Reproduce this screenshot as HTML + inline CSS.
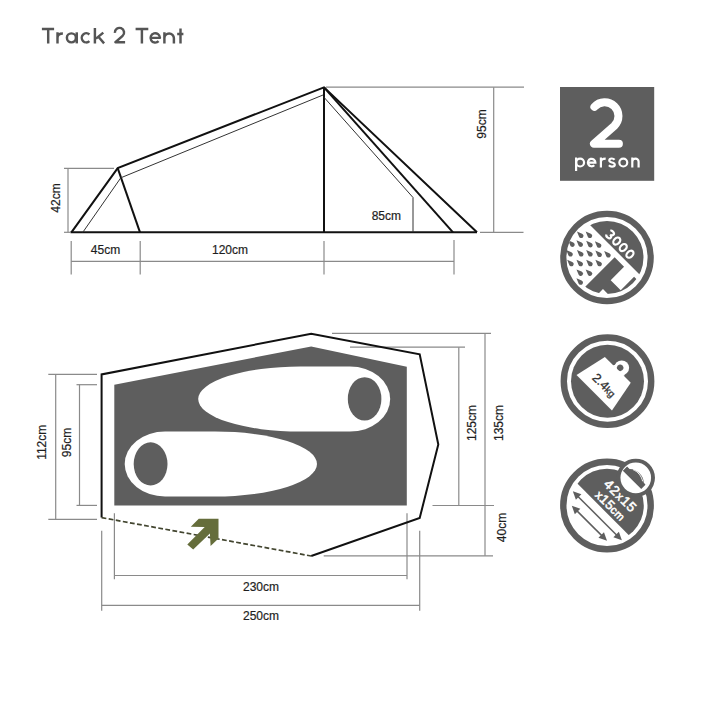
<!DOCTYPE html>
<html><head><meta charset="utf-8">
<style>
html,body{margin:0;padding:0;background:#fff;width:720px;height:720px;overflow:hidden}
svg{display:block}
text{font-family:"Liberation Sans",sans-serif}
</style></head>
<body>
<svg width="720" height="720" viewBox="0 0 720 720">
<rect width="720" height="720" fill="#fff"/>
<!-- Title -->
<g fill="none" stroke="#555" stroke-width="2.45" stroke-linecap="butt" stroke-linejoin="round">
  <path d="M41.9,29.05 H54.1 M48.2,29.05 V43.4"/>
  <path d="M57.5,32.3 V43.4 M57.5,38 C57.5,34.6 59.6,33.45 62.9,33.45"/>
  <circle cx="71.4" cy="37.85" r="4.5"/><path d="M76.75,32.3 V43.4"/>
  <path d="M89.4,34.5 A4.55,4.55 0 1 0 89.4,41.2"/>
  <path d="M94.9,27.9 V43.4 M103.3,32.6 L96,38.6 M98.4,36.8 L104.1,43.4"/>
  <path d="M114.9,32.9 A4.6,4.6 0 1 1 122.6,35.9 L115.4,42.25 H125.1"/>
  <path d="M135.6,29.05 H148.3 M141.9,29.05 V43.4"/>
  <path d="M150.55,37.85 H159.95 A4.7,4.7 0 1 0 158.6,41.2"/>
  <path d="M164.4,32.3 V43.4 M164.4,38.2 A4.75,4.75 0 0 1 173.9,38.2 V43.4"/>
  <path d="M180.5,28.4 V43.4 M177.2,33.9 H183.4"/>
</g>

<!-- ===== SIDE VIEW ===== -->
<g fill="none" stroke="#8a8a8a" stroke-width="1.2">
  <!-- 42cm -->
  <line x1="64" y1="168.3" x2="114" y2="168.3"/>
  <line x1="68" y1="168.3" x2="68" y2="232.3"/>
  <line x1="64" y1="232.3" x2="70" y2="232.3"/>
  <!-- 95cm -->
  <line x1="326" y1="87.2" x2="524" y2="87.2"/>
  <line x1="493.7" y1="87.2" x2="493.7" y2="232.4"/>
  <line x1="480" y1="232.4" x2="523.5" y2="232.4"/>
  <!-- bottom dims -->
  <line x1="71.2" y1="241" x2="71.2" y2="274.5"/>
  <line x1="140.2" y1="241" x2="140.2" y2="274.5"/>
  <line x1="324" y1="241" x2="324" y2="274.5"/>
  <line x1="454" y1="240" x2="454" y2="274.5"/>
  <line x1="71.2" y1="261.3" x2="454" y2="261.3"/>
</g>
<g fill="none" stroke="#111" stroke-width="2" stroke-linejoin="miter" stroke-linecap="butt">
  <line x1="70.5" y1="232.3" x2="477" y2="232.3"/>
  <polyline points="71.4,232.3 117.7,168.1 324,87.3 477,232.3"/>
  <line x1="117.7" y1="168.1" x2="140" y2="232.3"/>
  <line x1="324" y1="87.3" x2="453" y2="232.3"/>
  <line x1="324" y1="87.3" x2="324" y2="232.3"/>
</g>
<g fill="none" stroke="#333" stroke-width="1">
  <polyline points="82.8,232.3 120.8,177.8 323,95"/>
  <polyline points="324.2,97.5 413,197.5 413,232.3"/>
</g>
<g font-size="12" fill="#1e1e1e" stroke="#1e1e1e" stroke-width="0.2">
  <text x="90.8" y="253.8">45cm</text>
  <text x="212" y="253.8">120cm</text>
  <text x="371.7" y="220.4">85cm</text>
  <text transform="translate(60,198) rotate(-90)" text-anchor="middle">42cm</text>
  <text transform="translate(485.5,124) rotate(-90)" text-anchor="middle">95cm</text>
</g>

<!-- ===== FLOOR PLAN ===== -->
<g fill="none" stroke="#8a8a8a" stroke-width="1.2">
  <!-- 112cm -->
  <line x1="48.3" y1="374.4" x2="97" y2="374.4"/>
  <line x1="55.7" y1="374.4" x2="55.7" y2="519.3"/>
  <line x1="48.3" y1="519.3" x2="97" y2="519.3"/>
  <!-- 95cm -->
  <line x1="76.5" y1="384.7" x2="97" y2="384.7"/>
  <line x1="79.5" y1="384.7" x2="79.5" y2="505.4"/>
  <line x1="76.5" y1="505.4" x2="97" y2="505.4"/>
  <!-- 230 -->
  <line x1="114.4" y1="513.3" x2="114.4" y2="579.2"/>
  <line x1="407" y1="513.3" x2="407" y2="579.2"/>
  <line x1="114.4" y1="575.5" x2="407" y2="575.5"/>
  <!-- 250 -->
  <line x1="101.7" y1="530.8" x2="101.7" y2="610.8"/>
  <line x1="419.7" y1="530.8" x2="419.7" y2="610.8"/>
  <line x1="101.7" y1="605.3" x2="419.7" y2="605.3"/>
  <!-- 135 / 125 / 40 -->
  <line x1="332" y1="333.4" x2="491" y2="333.4"/>
  <line x1="485" y1="333.4" x2="485" y2="555.8"/>
  <line x1="350" y1="347.2" x2="465" y2="347.2"/>
  <line x1="458.8" y1="347.2" x2="458.8" y2="505.5"/>
  <line x1="432.5" y1="505.5" x2="494" y2="505.5"/>
  <line x1="323.7" y1="555.8" x2="493" y2="555.8"/>
</g>
<!-- floor -->
<polygon points="114.3,384.7 311.2,346.5 406.8,366.7 406.8,505.4 114.3,505.4" fill="#5e5e5e"/>
<!-- sleeping bags -->
<path d="M165,431.5 L215,431.5 A102,32.5 0 0 1 215,496.5 L165,496.5 A40.3,32.5 0 0 1 165,431.5 Z" fill="#fff"/>
<ellipse cx="150.6" cy="463.9" rx="16.9" ry="21.6" fill="#5e5e5e"/>
<path d="M350,366.6 L300.2,366.6 A102,32.5 0 0 0 300.2,431.6 L350,431.6 A40.2,32.5 0 0 0 350,366.6 Z" fill="#fff"/>
<ellipse cx="364.6" cy="398.9" rx="16.8" ry="21.7" fill="#5e5e5e"/>
<!-- outline -->
<polyline points="101.6,517.6 101.6,374.4 311.2,333.7 419.7,354.3 438.3,444.6 419.7,518 311.2,556" fill="none" stroke="#111" stroke-width="2" stroke-linejoin="miter"/>
<line x1="101.6" y1="517.6" x2="311.2" y2="556" stroke="#42452f" stroke-width="1.7" stroke-dasharray="4.8,2.4"/>
<!-- arrow -->
<polygon points="198.75,518.7 218.5,518.7 218.5,538.5 210.6,546.1 209.9,533.6 193.2,549.6 187.3,544.4 204.7,527 190.8,526.7" fill="#656d3b"/>

<g font-size="12" fill="#1e1e1e" stroke="#1e1e1e" stroke-width="0.2">
  <text transform="translate(46.2,442.3) rotate(-90)" text-anchor="middle">112cm</text>
  <text transform="translate(71.2,442.5) rotate(-90)" text-anchor="middle">95cm</text>
  <text transform="translate(475.8,423) rotate(-90)" text-anchor="middle">125cm</text>
  <text transform="translate(502.5,423) rotate(-90)" text-anchor="middle">135cm</text>
  <text transform="translate(506,527.5) rotate(-90)" text-anchor="middle">40cm</text>
  <text x="243" y="590.6">230cm</text>
  <text x="243" y="619.7">250cm</text>
</g>

<!-- ===== ICONS ===== -->
<defs>
  <path id="drop" d="M0,-5 L2.125,0.12 A2.3,2.3 0 1 1 -2.125,0.12 Z" transform="rotate(-45)"/>
  <clipPath id="c2"><circle r="36.5"/></clipPath>
  <clipPath id="c2b"><circle r="40.7"/></clipPath>
  <clipPath id="c4"><circle r="36.8"/></clipPath>
  <clipPath id="cm"><circle r="13.2"/></clipPath>
</defs>
<!-- 2 person -->
<rect x="560" y="87" width="94.2" height="93.8" fill="#5e5e5e"/>
<path d="M594.4,106.8 A13.8,13.8 0 1 1 614.2,126 L594,143.8 L618.9,143.8" fill="none" stroke="#fff" stroke-width="8" stroke-linecap="round" stroke-linejoin="round"/>
<g fill="none" stroke="#fff" stroke-width="2.2" stroke-linecap="butt">
  <path d="M576.1,157.5 V171"/><circle cx="580.1" cy="162.55" r="3.95"/>
  <path d="M587.9,162.55 H595.4 A3.75,3.75 0 1 0 594.3,165.2"/>
  <path d="M600.9,157.5 V167.6 M600.9,162 C600.9,159.5 602.5,158.6 605.7,158.6"/>
  <path d="M614.6,159.7 C613.8,158.8 612.8,158.5 611.8,158.5 C610.3,158.5 609.3,159.3 609.3,160.5 C609.3,163 614.8,162 614.8,164.7 C614.8,165.9 613.7,166.6 612,166.6 C610.8,166.6 609.6,166.1 608.9,165.3"/>
  <circle cx="623.3" cy="162.55" r="3.95"/>
  <path d="M632.3,157.5 V167.6 M632.3,161.85 A3.15,3.15 0 0 1 638.6,161.85 V167.6"/>
</g>

<!-- 3000 waterproof -->
<g transform="translate(607,257.5)">
  <circle r="43.7" fill="none" stroke="#5e5e5e" stroke-width="6.2"/>
  <g fill="#5e5e5e" clip-path="url(#c2b)"><use href="#drop" x="-26.5" y="-22.4"/><use href="#drop" x="-17.8" y="-22.4"/><use href="#drop" x="-35.3" y="-13.6"/><use href="#drop" x="-27.0" y="-13.6"/><use href="#drop" x="-17.3" y="-13.1"/><use href="#drop" x="-8.6" y="-12.7"/><use href="#drop" x="-37.2" y="-3.9"/><use href="#drop" x="-26.5" y="-3.9"/><use href="#drop" x="-17.3" y="-3.9"/><use href="#drop" x="-8.1" y="-3.4"/><use href="#drop" x="0.7" y="-2.9"/><use href="#drop" x="-36.3" y="5.8"/><use href="#drop" x="-27.0" y="5.8"/><use href="#drop" x="-17.3" y="5.8"/><use href="#drop" x="-8.1" y="5.8"/><use href="#drop" x="-27.0" y="15.5"/><use href="#drop" x="-17.8" y="15.5"/><use href="#drop" x="-27.0" y="24.3"/></g>
  <g transform="rotate(45)">
    <g clip-path="url(#c2)" fill="#5e5e5e">
      <rect x="-40" y="-40" width="80" height="29"/>
      <path d="M5.3,-5.5 H18.6 V13.4 H32.8 V-5.5 H37 V25.2 H19.5 V40 H5.3 Z"/>
    </g>
    <g fill="none" stroke="#fff" stroke-width="2.2"><path d="M-16.54,-21.27 A2.6,2.025 0 1 1 -14.10,-18.55 A2.75,2.025 0 1 1 -16.68,-15.83"/><ellipse cx="-4.7" cy="-18.55" rx="2.85" ry="4.05"/><ellipse cx="4.5" cy="-18.55" rx="2.85" ry="4.05"/><ellipse cx="13.9" cy="-18.55" rx="2.85" ry="4.05"/></g>
  </g>
</g>

<!-- weight -->
<g transform="translate(607.5,381.2)">
  <circle r="43.7" fill="none" stroke="#5e5e5e" stroke-width="6.4"/>
  <circle r="36.5" fill="#5e5e5e"/>
  <g transform="rotate(45)">
    <circle cx="0.6" cy="-19.5" r="7.4" fill="#fff"/>
    <polygon points="-7.5,-15 -4.5,-19 5.5,-19 8.5,-15" fill="#fff"/>
    <circle cx="-0.5" cy="-18.4" r="3.2" fill="#5e5e5e"/>
    <polygon points="-19,-15.3 17.6,-15.3 23.9,17.6 -26.2,17.6" fill="#fff"/>
    <text x="-13.3" y="9.3" font-size="12.5" fill="#333" stroke="#333" stroke-width="0.3">2.4<tspan font-size="10">kg</tspan></text>
  </g>
</g>

<!-- pack size -->
<g transform="translate(607,505.5)">
  <circle r="43.7" fill="none" stroke="#5e5e5e" stroke-width="6.4"/>
  <g transform="rotate(45)">
    <g clip-path="url(#c4)"><rect x="-40" y="-40" width="80" height="45.5" fill="#5e5e5e"/></g>
    <g fill="#5e5e5e" stroke="#5e5e5e">
      <line x1="-28" y1="14.1" x2="29" y2="14.1" stroke-width="1.5"/>
      <polygon points="-34.2,14.1 -26,10.2 -26,18" stroke="none"/>
      <polygon points="35.1,14.1 27,10.2 27,18" stroke="none"/>
      <line x1="-18.5" y1="25" x2="19" y2="25" stroke-width="1.5"/>
      <polygon points="-24.8,25 -16.6,21.1 -16.6,28.9" stroke="none"/>
      <polygon points="25,25 16.8,21.1 16.8,28.9" stroke="none"/>
    </g>
    <text x="2.9" y="-11.7" font-size="13.5" fill="#fff" stroke="#fff" stroke-width="0.55" text-anchor="middle" letter-spacing="0.9">42<tspan font-size="11.5">x</tspan>15</text>
    <text x="2.6" y="1.9" font-size="13" fill="#fff" stroke="#fff" stroke-width="0.55" text-anchor="middle" letter-spacing="0.4"><tspan font-size="11.5">x</tspan>15<tspan font-size="11">cm</tspan></text>
    <g transform="translate(0.8,-39.9)">
      <circle r="19.2" fill="#5e5e5e"/>
      <circle r="15.3" fill="#fff"/>
      <g fill="#5e5e5e" transform="translate(-1.2,-0.9)">
        <path d="M-13,-1 L-13,5 L13,5 L13,-1 L10,-1.5 C6,-6 -4,-6.5 -9.5,-1 Z"/>
        <path d="M-6.5,-3 C-2,-5 4,-4.5 8.5,-1.5" fill="none" stroke="#fff" stroke-width="0.9"/>
      </g>
    </g>
  </g>
</g>
</svg>
</body></html>
